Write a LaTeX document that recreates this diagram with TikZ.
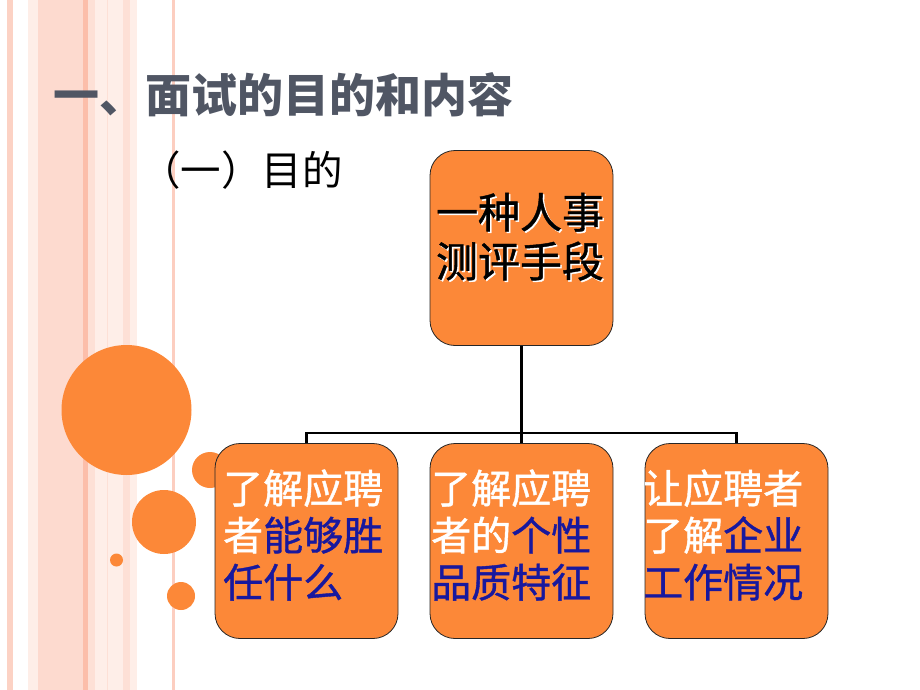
\documentclass[tikz,border=0pt]{standalone}
\usepackage{fontspec}
\usepackage{xcolor}
\newfontfamily\cjk{Noto Sans CJK SC}
\newfontfamily\cjkbox[FakeBold=1]{Noto Sans CJK SC}
\definecolor{corange}{RGB}{252,136,56}
\definecolor{cnavy}{RGB}{24,24,158}
\definecolor{cslate}{RGB}{80,86,100}
\definecolor{cpinkA}{RGB}{252,210,196}
\definecolor{cpinkB}{RGB}{253,218,207}
\definecolor{cpinkC}{RGB}{252,190,170}
\definecolor{cpinkD}{RGB}{253,224,214}
\definecolor{cpinkE}{RGB}{254,238,232}
\definecolor{cpinkF}{RGB}{252,206,192}
% text with a drop shadow: colour, shadow colour, text
\newcommand{\shtxt}[3]{\makebox[0pt][l]{\hspace*{1.5pt}\raisebox{-1.5pt}{\textcolor{#2}{#3}}}\textcolor{#1}{#3}}
\usetikzlibrary{positioning}

\begin{document}
\begin{tikzpicture}[x=1pt, y=-1pt,
    conn/.style={line width=2.6pt, draw=black},
    ybox/.style={draw=black!85, line width=0.8pt, fill=corange, rounded corners=25pt,
                 minimum width=183pt, minimum height=195pt, inner sep=0pt},
    dot/.style={circle, fill=corange, inner sep=0pt},
    boxtext/.style={inner sep=0pt, align=left, font=\cjkbox\fontsize{40}{47}\selectfont},
  ]
  \useasboundingbox (0,0) rectangle (920,690);
  % stripes
  \foreach \xa/\xb/\c in {7/13/cpinkA, 28/38/cpinkE, 38/83/cpinkB, 83/88/cpinkC,
      88/95/cpinkD, 95/107/cpinkE, 107/108/cpinkD, 108/123/cpinkE, 123/130/cpinkD,
      130/137/cpinkE, 172/175/cpinkF}
    \fill[\c] (\xa,0) rectangle (\xb,690);
  % circles
  \node[dot, minimum size=130pt] (c1) at (126.5,410) {};
  \node[dot, minimum size=36pt] (c2) at (210,470) {};
  \node[dot, minimum size=64pt] (c3) at (164,522) {};
  \node[dot, minimum size=13pt] (c4) at (116.5,560) {};
  \node[dot, minimum size=28pt] (c5) at (181,596) {};
  % titles
  \node[anchor=west, inner sep=0pt, text=cslate, font=\cjk\bfseries\fontsize{46}{50}\selectfont]
    (title) at (53,95) {一、面试的目的和内容};
  \node[anchor=west, inner sep=0pt, font=\cjk\fontsize{40.5}{44}\selectfont]
    (sub) at (140,170) {（一）目的};
  % boxes
  \node[ybox] (top) at (521.5,248) {};
  \node[ybox] (b1) at (306.5,541) {};
  \node[ybox] (b2) at (521.5,541) {};
  \node[ybox] (b3) at (736.5,541) {};
  % connectors
  \coordinate (bus) at (521.5,433);
  \draw[conn] (top.south) -- (bus);
  \draw[conn] (b1.north) |- (bus) -| (b3.north);
  \draw[conn] (bus) -- (b2.north);
  % texts
  \node[boxtext, align=center, font=\cjkbox\fontsize{42}{49}\selectfont] (topTxt) at (520,237.5)
    {\shtxt{black}{white}{一种人事}\\\shtxt{black}{white}{测评手段}};
  \node[boxtext, anchor=west, text=white] (t1) at (223,535)
    {了解应聘\\者\textcolor{cnavy}{能够胜}\\\textcolor{cnavy}{任什么}};
  \node[boxtext, anchor=west, text=white] (t2) at (431,535)
    {了解应聘\\者的\textcolor{cnavy}{个性}\\\textcolor{cnavy}{品质特征}};
  \node[boxtext, anchor=west, text=white] (t3) at (643,535)
    {让应聘者\\了解\textcolor{cnavy}{企业}\\\textcolor{cnavy}{工作情况}};
\end{tikzpicture}
\end{document}
